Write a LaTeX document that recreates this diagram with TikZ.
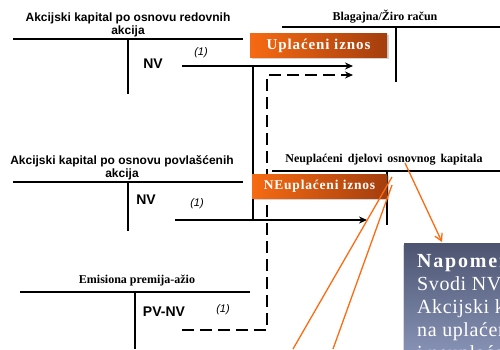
\documentclass[tikz,border=0pt]{standalone}
\usepackage{fontspec}
\setmainfont{Liberation Serif}
\setsansfont{Liberation Sans}
\usetikzlibrary{shadows,arrows.meta}
\definecolor{orln}{HTML}{FF6A10}
\definecolor{orL}{HTML}{F66A12}
\definecolor{orR}{HTML}{A43E0E}
\definecolor{gyT}{HTML}{4C5470}
\definecolor{gyB}{HTML}{8C98BC}
\newcommand\mywidesp{\spaceskip=5pt plus 1pt\relax}
\tikzset{
  tline/.style={line width=1.8pt, black},
  conn/.style={line width=1.6pt, black},
  dconn/.style={line width=1.6pt, black, dash pattern=on 12pt off 6pt},
  blackarrow/.style={-{Stealth[length=8pt,width=7pt]}},
  orline/.style={line width=1.3pt, orln},
  sanstitle/.style={font=\sffamily\bfseries\fontsize{12}{13}\selectfont, align=center, inner sep=0pt},
  seriftitle/.style={font=\rmfamily\bfseries\fontsize{12}{13}\selectfont, inner sep=0pt},
  acct/.style={font=\sffamily\bfseries\fontsize{14}{16}\selectfont, inner sep=0pt},
  one/.style={font=\sffamily\itshape\fontsize{11}{12}\selectfont, inner sep=0pt},
  orbox/.style={left color=orL, right color=orR, draw=none, minimum height=24pt, drop shadow={opacity=0.35, shadow xshift=1.5pt, shadow yshift=-1.5pt},
    text=white, font=\rmfamily\bfseries\fontsize{15}{16}\selectfont\addfontfeature{LetterSpace=6}, inner sep=0pt},
}
\begin{document}
\begin{tikzpicture}[x=1pt,y=-1pt]
\useasboundingbox (0,0) rectangle (500,349);
% T-account 1
\node[sanstitle] (t1) at (128,25) {Akcijski kapital po osnovu redovnih\\akcija};
\draw[tline] (13,39) -- (243,39);
\draw[tline] (128,39) -- (128,94);
\node[acct] (nv1) at (153,64) {NV};
\node[one] (o1) at (201,53) {(1)};
% T-account 2
\node[sanstitle] (t2) at (122,168) {Akcijski kapital po osnovu povlašćenih\\akcija};
\draw[tline] (13,182) -- (243,182);
\draw[tline] (128,182) -- (128,231);
\node[acct] (nv2) at (146,200) {NV};
\node[one] (o2) at (197,204) {(1)};
% T-account 3
\node[seriftitle] (t3) at (137,281) {Emisiona premija-ažio};
\draw[tline] (20,292) -- (250,292);
\draw[tline] (135,292) -- (135,349);
\node[acct] (pv) at (164,312) {PV-NV};
\node[one] (o3) at (223,310) {(1)};
% Blagajna
\node[seriftitle] (t4) at (385,17) {Blagajna/Žiro račun};
\draw[tline] (282,27) -- (500,27);
\draw[tline] (396,27) -- (396,82);
% Neuplaceni
\node[seriftitle] (t5) at (384,160) {\mywidesp Neuplaćeni djelovi osnovnog kapitala};
\draw[tline] (272,171) -- (500,171);
\draw[tline] (387,171) -- (387,225);
% connectors
\coordinate (a1s) at (182,66);
\coordinate (a1e) at (353,66);
\coordinate (j1) at (253,66);
\coordinate (j2) at (253,220);
\coordinate (a2s) at (175,220);
\coordinate (a2e) at (367,220);
\coordinate (d0) at (182,330);
\coordinate (d1) at (267,330);
\coordinate (d2) at (267,75);
\coordinate (d3) at (353,75);
\draw[conn,blackarrow] (a1s) -- (a1e);
\draw[conn] (j1) -- (j2);
\draw[conn,blackarrow] (a2s) -- (a2e);
\draw[dconn,blackarrow] (d0) -- (d1) -- (d2) -- (d3);
% orange boxes
\node[orbox, minimum width=137pt] (up) at (318.5,45.5) {Uplaćeni iznos};
\node[orbox, minimum width=135pt, minimum height=24pt, font=\rmfamily\bfseries\fontsize{13.5}{15}\selectfont\addfontfeature{LetterSpace=6}] (neup) at (319.5,186) {NEuplaćeni iznos};
% gray note box
\node[draw=none, top color=gyT, bottom color=gyB, minimum width=110pt, minimum height=120pt, anchor=north west, inner sep=0pt,
      drop shadow={opacity=0.3, shadow xshift=-1.5pt, shadow yshift=-1.5pt}] (note) at (404,243) {};
\begin{scope}
\clip (404,243) rectangle (500,349);
\node[anchor=north west, text=white, align=left, inner sep=0pt,
      font=\rmfamily\fontsize{20}{23}\selectfont\addfontfeature{LetterSpace=3}] (notetext) at (417,254)
  {{\bfseries\addfontfeature{LetterSpace=9}Napomena:}\\Svodi NV na\\Akcijski kapital\\na uplaćeni\\i neuplaćeni};
\end{scope}
% orange lines
\coordinate (ol1s) at (392,177);
\coordinate (ol1e) at (293,349);
\coordinate (ol2s) at (392,185);
\coordinate (ol2e) at (333,349);
\coordinate (ol3s) at (405,163);
\coordinate (ol3e) at (442,242);
\draw[orline] (ol1s) -- (ol1e);
\draw[orline] (ol2s) -- (ol2e);
\draw[orline,-{Straight Barb[length=7pt,width=8pt]}] (ol3s) -- (ol3e);
\end{tikzpicture}
\end{document}
